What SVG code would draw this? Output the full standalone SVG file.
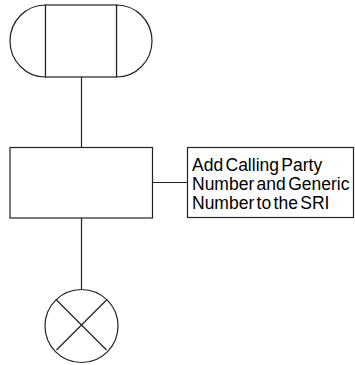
<svg xmlns="http://www.w3.org/2000/svg" width="355" height="365" viewBox="0 0 355 365">
<style>
.s{fill:#fff;stroke:#222;stroke-width:1.2}
.l{fill:none;stroke:#222;stroke-width:1.2}
.t{font-family:"Liberation Sans",Arial,sans-serif;font-size:17.5px;fill:#000;word-spacing:-2.5px}
</style>
<rect width="355" height="365" fill="#fff"/>
<g id="connectors">
<line class="l" x1="81.5" y1="77" x2="81.5" y2="147.5"/>
<line class="l" x1="81.5" y1="218" x2="81.5" y2="289.5"/>
<line class="l" x1="152.5" y1="182.5" x2="187.5" y2="182.5"/>
</g>
<g id="start">
<path class="s" d="M45.5,5 A35.5,36 0 0 0 45.5,77 Z"/>
<path class="s" d="M116.5,5 A35.5,36 0 0 1 116.5,77 Z"/>
<rect class="s" x="45.5" y="5" width="71" height="72"/>
</g>
<g id="task">
<rect class="s" x="10" y="147.5" width="142.5" height="70.5"/>
</g>
<g id="comment">
<rect class="s" x="187.5" y="147.5" width="166" height="70"/>
<text class="t" x="192" y="170.5">Add Calling Party</text>
<text class="t" x="192" y="189.5">Number and Generic</text>
<text class="t" x="192" y="208.5">Number to the SRI</text>
</g>
<g id="stop">
<circle class="s" cx="81.5" cy="326" r="36.5"/>
<line class="l" x1="56" y1="299.5" x2="106.5" y2="350"/>
<line class="l" x1="107" y1="299.5" x2="56.5" y2="350"/>
</g>
</svg>
